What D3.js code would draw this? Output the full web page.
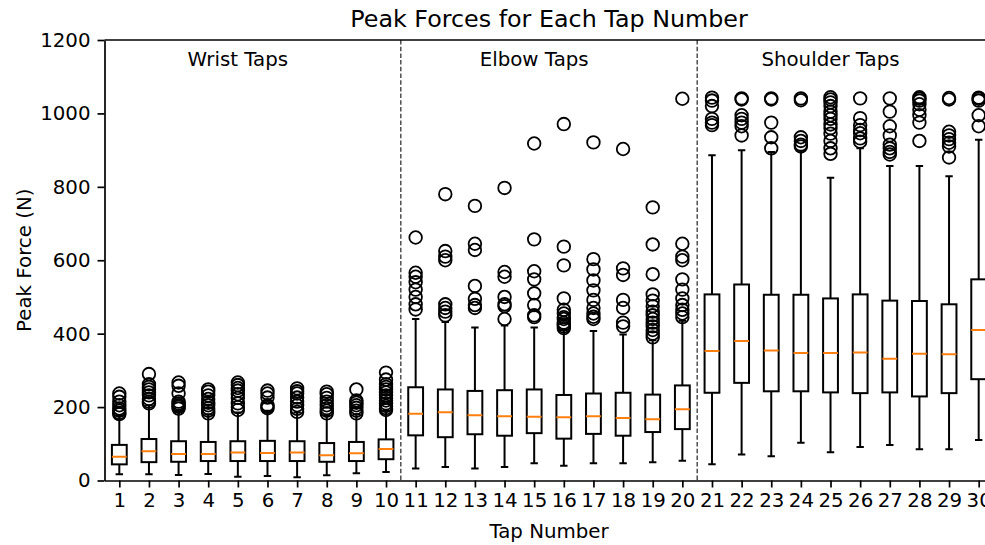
<!DOCTYPE html>
<html>
<head>
<meta charset="utf-8">
<script src="https://cdn.jsdelivr.net/npm/d3@7"></script>
<style>
  html, body { margin: 0; padding: 0; background: #fff; }
  svg { display: block; font-family: "DejaVu Sans", sans-serif; }
</style>
</head>
<body>
<svg id="chart" width="985" height="545"></svg>
<script>
// ---- data ----
const taps = d3.range(1, 31);
const q1 = [44, 50, 51, 53, 53, 53, 53, 51, 53, 58,
            123, 118, 126, 122, 129, 114, 127, 122, 132, 140,
            239, 266, 243, 243, 240, 238, 240, 229, 238, 276];
const medians = [65, 80, 72, 72, 76, 75, 76, 69, 74, 86,
                 182, 186, 178, 175, 174, 172, 175, 170, 167, 194,
                 353, 380, 354, 347, 347, 349, 332, 345, 344, 410];
const q3 = [97, 113, 107, 105, 107, 108, 107, 102, 105, 112,
            254, 248, 244, 246, 248, 233, 237, 239, 234, 259,
            507, 534, 506, 506, 496, 507, 490, 489, 480, 548];
const whiskerLow = [17, 17, 15, 18, 10, 12, 9, 14, 20, 23,
                    33, 37, 33, 37, 47, 40, 47, 47, 50, 54,
                    44, 71, 66, 103, 77, 91, 97, 85, 85, 110];
const whiskerHigh = [176, 205, 190, 180, 185, 190, 185, 178, 180, 190,
                     440, 432, 417, 422, 417, 410, 407, 398, 382, 435,
                     886, 900, 895, 898, 825, 905, 857, 857, 829, 928];
const fliers = [
  [237, 228, 215, 205, 196, 190, 184, 181],
  [290, 262, 255, 248, 240, 232, 222, 215, 210],
  [267, 258, 237, 215, 210, 205, 201, 196],
  [248, 242, 232, 222, 212, 205, 197, 190, 183],
  [267, 260, 252, 245, 235, 225, 210, 200, 192],
  [245, 237, 226, 205, 201, 197],
  [251, 243, 237, 226, 215, 205, 195, 187],
  [242, 235, 225, 215, 205, 197, 190, 183],
  [248, 218, 212, 205, 198, 190, 183],
  [294, 275, 262, 255, 248, 240, 232, 225, 218, 210, 203, 197, 192],
  [662, 566, 555, 540, 520, 500, 480, 466],
  [780, 625, 610, 600, 480, 470, 460, 450],
  [748, 645, 628, 530, 495, 478, 470],
  [797, 568, 555, 500, 480, 475, 440],
  [918, 657, 570, 548, 510, 478, 450, 445],
  [971, 637, 586, 496, 465, 455, 445, 440, 430, 425, 420, 415],
  [921, 603, 575, 545, 518, 492, 470, 455, 446, 440],
  [903, 578, 560, 492, 470, 430, 420],
  [744, 643, 562, 507, 490, 475, 460, 450, 440, 430, 420, 410, 400, 390],
  [1040, 645, 610, 600, 548, 520, 496, 478, 465, 455, 445],
  [1043, 1035, 1020, 985, 975, 968],
  [1041, 1038, 995, 985, 975, 965, 940],
  [1041, 1038, 975, 935, 905],
  [1041, 1036, 935, 925, 915, 910],
  [1044, 1038, 1030, 1020, 1005, 995, 985, 970, 960, 945, 925, 905, 890],
  [1041, 987, 968, 955, 946, 932, 923],
  [1041, 1005, 965, 940, 915, 905, 895, 888],
  [1044, 1040, 1035, 1025, 1010, 995, 975, 925],
  [1042, 1038, 950, 940, 930, 920, 910, 880],
  [1043, 1040, 1035, 995, 965]
];
const yTicks = [0, 200, 400, 600, 800, 1000, 1200];
const groups = [
  { label: "Wrist Taps", at: 5 },
  { label: "Elbow Taps", at: 15 },
  { label: "Shoulder Taps", at: 25 }
];
const dividers = [10.5, 20.5];
const titleText = "Peak Forces for Each Tap Number";
const xLabel = "Tap Number";
const yLabel = "Peak Force (N)";

// ---- layout ----
const svg = d3.select("#chart");
const pL = 104.5, pR = 993.5, pT = 40, pB = 480.5;
const fs = 19.8;

const x = d3.scaleLinear().domain([0.5, 30.5]).range([pL, pR]);
const y = d3.scaleLinear().domain([0, 1200]).range([pB, pT]);
const boxW = (x(1) - x(0.5));      // 0.5 units wide
const capW = boxW / 2;

svg.append("defs").append("clipPath").attr("id", "plotclip")
  .append("rect").attr("x", pL).attr("y", pT - 10)
  .attr("width", pR - pL).attr("height", pB - pT + 20);

const plot = svg.append("g").attr("clip-path", "url(#plotclip)");

// dividers
plot.selectAll("line.div").data(dividers).join("line")
  .attr("x1", d => x(d)).attr("x2", d => x(d))
  .attr("y1", pT).attr("y2", pB)
  .attr("stroke", "#222").attr("stroke-width", 1.2)
  .attr("stroke-dasharray", "4.5,2.2");

// group labels
plot.selectAll("text.grp").data(groups).join("text")
  .attr("x", d => x(d.at)).attr("y", y(1150) + 7.5)
  .attr("text-anchor", "middle").attr("font-size", fs)
  .attr("fill", "#000").text(d => d.label);

const g = plot.selectAll("g.box").data(taps).join("g").attr("class", "box");
const lw = 2;
// whiskers
g.append("line")
  .attr("x1", d => x(d)).attr("x2", d => x(d))
  .attr("y1", (d, i) => y(q3[i])).attr("y2", (d, i) => y(whiskerHigh[i]))
  .attr("stroke", "#000").attr("stroke-width", lw);
g.append("line")
  .attr("x1", d => x(d)).attr("x2", d => x(d))
  .attr("y1", (d, i) => y(q1[i])).attr("y2", (d, i) => y(whiskerLow[i]))
  .attr("stroke", "#000").attr("stroke-width", lw);
// caps
g.append("line")
  .attr("x1", d => x(d) - capW / 2).attr("x2", d => x(d) + capW / 2)
  .attr("y1", (d, i) => y(whiskerHigh[i])).attr("y2", (d, i) => y(whiskerHigh[i]))
  .attr("stroke", "#000").attr("stroke-width", lw);
g.append("line")
  .attr("x1", d => x(d) - capW / 2).attr("x2", d => x(d) + capW / 2)
  .attr("y1", (d, i) => y(whiskerLow[i])).attr("y2", (d, i) => y(whiskerLow[i]))
  .attr("stroke", "#000").attr("stroke-width", lw);
// box
g.append("rect")
  .attr("x", d => x(d) - boxW / 2).attr("width", boxW)
  .attr("y", (d, i) => y(q3[i])).attr("height", (d, i) => y(q1[i]) - y(q3[i]))
  .attr("fill", "none").attr("stroke", "#000").attr("stroke-width", lw);
// median
g.append("line")
  .attr("x1", d => x(d) - boxW / 2).attr("x2", d => x(d) + boxW / 2)
  .attr("y1", (d, i) => y(medians[i])).attr("y2", (d, i) => y(medians[i]))
  .attr("stroke", "#ff7f0e").attr("stroke-width", lw);
// fliers
g.each(function (d, i) {
  d3.select(this).selectAll("circle").data(fliers[i]).join("circle")
    .attr("cx", x(d)).attr("cy", v => y(v)).attr("r", 6.3)
    .attr("fill", "none").attr("stroke", "#000").attr("stroke-width", 1.8);
});

// axes
const xAxis = d3.axisBottom(x).tickValues(taps).tickSize(7).tickPadding(5).tickSizeOuter(0);
const yAxis = d3.axisLeft(y).tickValues(yTicks).tickFormat(d3.format("d"))
  .tickSize(7).tickPadding(7).tickSizeOuter(0);

const gx = svg.append("g").attr("transform", `translate(0,${pB})`).call(xAxis);
const gy = svg.append("g").attr("transform", `translate(${pL},0)`).call(yAxis);
[gx, gy].forEach(a => {
  a.select(".domain").attr("stroke", "#000").attr("stroke-width", 1.7);
  a.selectAll(".tick line").attr("stroke", "#000").attr("stroke-width", 1.7);
  a.selectAll(".tick text").attr("font-size", fs).attr("fill", "#000")
    .attr("font-family", "DejaVu Sans, sans-serif");
});
// top spine
svg.append("line").attr("x1", pL).attr("x2", pR).attr("y1", pT).attr("y2", pT)
  .attr("stroke", "#000").attr("stroke-width", 1.7);

// title and labels
svg.append("text").attr("x", (pL + pR) / 2).attr("y", 27)
  .attr("text-anchor", "middle").attr("font-size", 23.8).attr("fill", "#000").text(titleText);
svg.append("text").attr("x", (pL + pR) / 2).attr("y", 538)
  .attr("text-anchor", "middle").attr("font-size", fs).attr("fill", "#000").text(xLabel);
svg.append("text").attr("transform", `translate(31,${(pT + pB) / 2}) rotate(-90)`)
  .attr("text-anchor", "middle").attr("font-size", fs).attr("fill", "#000").text(yLabel);
</script>
</body>
</html>
